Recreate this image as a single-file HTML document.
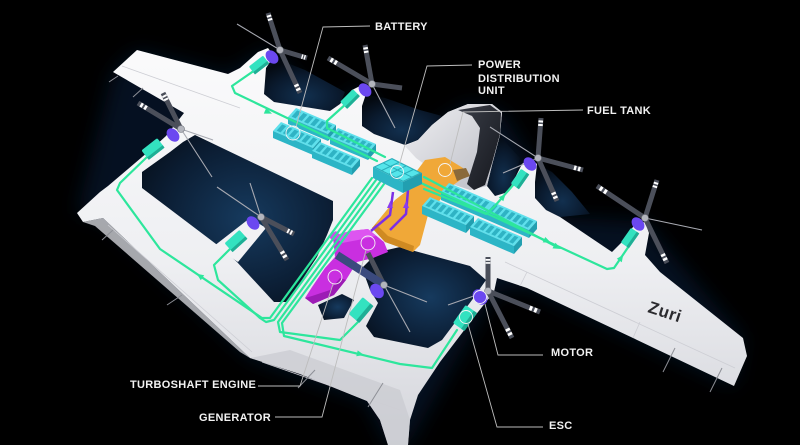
<!DOCTYPE html>
<html><head><meta charset="utf-8">
<style>
html,body{margin:0;padding:0;background:#000;width:800px;height:445px;overflow:hidden}
svg{display:block}
.lb{font-family:"Liberation Sans",Arial,sans-serif;font-weight:bold;font-size:11px;fill:#f2f2f2;letter-spacing:.3px}
.w{stroke:#4b4f5a;stroke-width:5;stroke-linecap:butt}
.t{stroke:#a7a9b1;stroke-width:1.1}
.s{stroke:#fff;stroke-width:4.6;stroke-dasharray:0 80 5 4 5 300}
.g{fill:none;stroke:#2de69c;stroke-width:2.2;stroke-linejoin:round;stroke-linecap:round}
.p{fill:none;stroke:#7c2ee6;stroke-width:2.5;stroke-linejoin:round}
.ld{fill:none;stroke:#bdbdbd;stroke-width:0.9}
.cr{fill:none;stroke:#f4f4f4;stroke-width:0.9}
.tk{stroke:#8d8f96;stroke-width:1}
</style></head>
<body>
<svg width="800" height="445" viewBox="0 0 800 445" xmlns="http://www.w3.org/2000/svg">
<defs>
<filter id="blur" x="-50%" y="-50%" width="200%" height="200%"><feGaussianBlur stdDeviation="10"/></filter>
<radialGradient id="hn" cx=".55" cy=".5" r=".65"><stop offset="0" stop-color="#163a5e"/><stop offset=".7" stop-color="#0b1d33"/><stop offset="1" stop-color="#07111e"/></radialGradient>
<radialGradient id="hn2" cx=".5" cy=".7" r=".7"><stop offset="0" stop-color="#12304f"/><stop offset=".6" stop-color="#0a1a2e"/><stop offset="1" stop-color="#040a12"/></radialGradient>
<linearGradient id="wh" x1="0" y1="40" x2="0" y2="445" gradientUnits="userSpaceOnUse"><stop offset="0" stop-color="#fbfbfc"/><stop offset=".55" stop-color="#eeeff2"/><stop offset="1" stop-color="#d4d5db"/></linearGradient>
<linearGradient id="cn" x1="0" y1="0" x2="1" y2="1"><stop offset="0" stop-color="#efeff2"/><stop offset="1" stop-color="#b9bbc3"/></linearGradient>
<linearGradient id="gl" x1="0" y1="0" x2="1" y2="1"><stop offset="0" stop-color="#3a3e48"/><stop offset="1" stop-color="#15171d"/></linearGradient>
<g id="bt6"><rect width="1" height="1" fill="#5fe0ec"/><g fill="#2fb3c4"><rect x=".06" y=".15" width=".1" height=".7"/><rect x=".215" y=".15" width=".1" height=".7"/><rect x=".37" y=".15" width=".1" height=".7"/><rect x=".525" y=".15" width=".1" height=".7"/><rect x=".68" y=".15" width=".1" height=".7"/><rect x=".835" y=".15" width=".1" height=".7"/></g></g>
<g id="bt7"><rect width="1" height="1" fill="#5fe0ec"/><g fill="#2fb3c4"><rect x=".05" y=".15" width=".085" height=".7"/><rect x=".185" y=".15" width=".085" height=".7"/><rect x=".32" y=".15" width=".085" height=".7"/><rect x=".455" y=".15" width=".085" height=".7"/><rect x=".59" y=".15" width=".085" height=".7"/><rect x=".725" y=".15" width=".085" height=".7"/><rect x=".86" y=".15" width=".085" height=".7"/></g></g>
<rect id="bf" width="1" height="1" fill="#2cb5c6"/>
<rect id="be" width="1" height="1" fill="#229fb0"/>
</defs>

<rect width="800" height="445" fill="#000"/>

<!-- glow -->
<path filter="url(#blur)" fill="#0e2c52" opacity=".4" d="M113,72 L137,50 L228,74 L268,48 L330,111 L360,86 L405,145 L468,104 L502,112 L530,158 L560,217 L645,222 L743,338 L734,386 L527,288 L494,292 L408,445 L388,445 L367,401 L250,358 L103,218 L77,213 Z"/>

<!-- open navy regions -->
<g fill="url(#hn2)">
<polygon points="266,68 282,61 305,70 345,92 340,104 330,111 274,102 264,94"/>
<polygon points="366,95 385,98 420,110 442,116 432,125 418,140 405,145 374,134 362,126 362,106"/>
<polygon points="487,186 492,165 500,135 508,145 520,158 514,180 508,192 495,196"/>
<polygon points="537,164 552,172 572,192 590,214 560,217 546,210 535,198 535,182"/>
</g>

<!-- aircraft silhouette -->
<path fill="url(#wh)" d="M113,72 L137,50 L228,74 L240,68 L258,52 L268,48 L274,56 L266,68 L264,94 L274,102 L330,111 L340,104 L352,90 L360,86 L366,94 L362,106 L362,126 L374,134 L405,145 L418,140 L432,125 L448,112 L468,104 L492,104 L502,112 L500,135 L492,165 L487,186 L495,196 L508,192 L514,180 L522,164 L530,158 L537,164 L535,182 L535,198 L546,210 L560,217 L612,252 L624,240 L635,224 L645,222 L649,233 L645,255 L660,272 L743,338 L747,356 L734,386 L633,338 L527,288 L497,278 L494,292 L478,312 L440,362 L418,395 L410,420 L408,445 L388,445 L380,420 L367,401 L300,374 L250,358 L103,218 L83,222 L77,213 L100,192 L108,186 L155,146 L166,136 L177,122 L184,113 Z"/>

<!-- lower surface shading -->
<polygon points="250,358 290,350 400,390 410,420 408,445 388,445 380,420 367,401 300,374" fill="#c9cad0" opacity=".7"/>
<polygon points="83,222 103,218 250,358 240,352 95,226" fill="#d0d1d6" opacity=".8"/>

<!-- enclosed holes -->
<polygon fill="url(#hn)" points="142,188 142,172 170,152 183,142 195,135 333,201 333,220 327,235 317,257 300,283 287,302 274,302 237,262 220,247"/>
<polygon fill="url(#hn)" points="362,268 378,252 400,247 470,266 486,280 472,300 442,340 428,348 374,337 366,326 378,303 370,290"/>
<polygon fill="url(#hn)" points="318,305 342,294 354,300 344,318 324,320"/>
<!-- pylon for motor 4 -->
<polygon points="214,246 250,218 266,228 238,262" fill="#f1f1f4"/>

<!-- panel lines -->
<g fill="none" stroke="#cdced4" stroke-width=".8">
<path d="M505,262 L735,368"/><path d="M527,272 L520,286"/><path d="M640,322 L633,338"/>
<path d="M122,66 L240,108"/><path d="M108,225 L252,352"/><path d="M262,362 L400,410"/>
</g>
<g class="tk">
<line x1="109" y1="82" x2="118" y2="76"/><line x1="133" y1="97" x2="143" y2="88"/>
<line x1="102" y1="240" x2="113" y2="230"/><line x1="167" y1="305" x2="182" y2="295"/>
<line x1="298" y1="388" x2="315" y2="370"/><line x1="368" y1="407" x2="383" y2="383"/>
<line x1="663" y1="372" x2="675" y2="348"/><line x1="710" y1="392" x2="722" y2="368"/>
</g>

<!-- canopy -->
<path fill="url(#cn)" d="M405,146 L418,140 L432,125 L448,112 L468,104 L492,104 L502,112 L500,135 L492,165 L487,186 L470,190 L452,184 L432,170 L416,158 Z"/>
<path fill="url(#gl)" d="M458,110 L490,105 L501,113 L500,134 L492,163 L485,185 L474,190 L467,184 L477,152 L480,128 L472,116 Z"/>

<!-- fuel tank -->
<path fill="#f0a838" d="M425,160 L445,157 L463,168 L463,178 L452,186 L440,200 L428,215 L420,245 L413,252 L385,242 L372,228 L395,200 L408,190 L416,172 Z"/>
<polygon points="372,228 385,242 413,252 414,246 388,236 376,224" fill="#cf8a22"/>
<polygon points="453,170 466,168 470,176 457,181" fill="#8a6a3a"/>

<!-- batteries left -->
<use href="#bt6" transform="matrix(40 17 -8 9 296 108)"/><use href="#bf" transform="matrix(40 17 0 7 288 117)"/><use href="#be" transform="matrix(-8 9 0 7 336 125)"/>
<use href="#bt6" transform="matrix(38 16 -8 9 338 128)"/><use href="#bf" transform="matrix(38 16 0 7 330 137)"/><use href="#be" transform="matrix(-8 9 0 7 376 144)"/>
<use href="#bt6" transform="matrix(40 17 -8 9 281 122)"/><use href="#bf" transform="matrix(40 17 0 7 273 131)"/><use href="#be" transform="matrix(-8 9 0 7 321 139)"/>
<use href="#bt6" transform="matrix(40 17 -8 9 320 142)"/><use href="#bf" transform="matrix(40 17 0 7 312 151)"/><use href="#be" transform="matrix(-8 9 0 7 360 159)"/>
<!-- batteries right -->
<use href="#bt7" transform="matrix(44 19 -8 9 449 183)"/><use href="#bf" transform="matrix(44 19 0 8 441 192)"/><use href="#be" transform="matrix(-8 9 0 8 493 202)"/>
<use href="#bt7" transform="matrix(44 19 -8 9 493 202)"/><use href="#bf" transform="matrix(44 19 0 8 485 211)"/><use href="#be" transform="matrix(-8 9 0 8 537 221)"/>
<use href="#bt7" transform="matrix(44 19 -8 9 430 197)"/><use href="#bf" transform="matrix(44 19 0 8 422 206)"/><use href="#be" transform="matrix(-8 9 0 8 474 216)"/>
<use href="#bt7" transform="matrix(44 19 -8 9 478 218)"/><use href="#bf" transform="matrix(44 19 0 8 470 227)"/><use href="#be" transform="matrix(-8 9 0 8 522 237)"/>

<!-- engine / generator -->
<path fill="#c92fe0" d="M333,236 L350,231 L368,229 L384,242 L388,252 L373,258 L357,262 L346,280 L334,295 L313,304 L305,298 L312,287 L325,268 L335,257 L334,247 Z"/>
<polygon points="333,236 350,231 368,229 376,236 358,240 342,243" fill="#dd55f0"/>
<polygon points="305,298 313,304 334,295 346,280 340,278 330,290 312,296" fill="#9c1cb5"/>
<polygon points="328,236 336,231 341,236 333,241" fill="#d44ae8"/>

<!-- green power lines -->
<path class="g" d="M255,70 L232,86 L235,93 L377,161"/>
<path class="g" d="M347,103 L327,121 L327,128 L385,157"/>
<path class="g" d="M424,177 L557,247"/>
<path class="g" d="M421,183 L607,269 L614,268 L631,243"/>
<path class="g" d="M424,189 L486,214 L494,207 L514,184"/>
<path class="g" d="M372,178 L270,318 L262,318 L160,249 L117,190 L120,183 L147,157"/>
<path class="g" d="M376,180 L274,320 L266,322 L260,318 L218,280 L214,265 L232,247"/>
<path class="g" d="M380,182 L278,322 L280,332 L340,340 L360,320"/>
<path class="g" d="M384,184 L282,323 L284,336 L400,364 L432,368 L457,330"/>
<g fill="#2de69c">
<polygon points="272,113.6 263.8,113.6 266.2,108"/>
<polygon points="561,249 552.5,248.4 555.5,242.8"/>
<polygon points="551,242.7 542.7,242.4 545.3,237"/>
<polygon points="196.7,273.8 204.2,275.2 200.8,280.2"/>
<polygon points="505.6,194 503.3,201.3 498.7,197.3"/>
<polygon points="623.2,254.7 621.8,262.2 616.8,258.8"/>
<polygon points="364,355 356.3,356.2 357.7,350.4"/>
</g>
<!-- purple lines -->
<path class="p" d="M393,192 L390,215 L371,231"/>
<path class="p" d="M408,190 L406,214 L390,230"/>
<g fill="#8a3cf0"><polygon points="390.3,201 387,208 393,208"/><polygon points="406.2,201 403,208 409,208"/></g>

<!-- PDU -->
<use href="#bf" transform="matrix(30 15 0 11 373 167)"/>
<use href="#be" transform="matrix(-19 9 0 11 422 173)"/>
<g transform="matrix(30 15 -19 9 392 158)"><rect width="1" height="1" fill="#2aaebb"/><g fill="#55e5ea"><rect x=".04" y=".07" width=".2" height=".4"/><rect x=".28" y=".07" width=".2" height=".4"/><rect x=".52" y=".07" width=".2" height=".4"/><rect x=".76" y=".07" width=".2" height=".4"/><rect x=".04" y=".53" width=".2" height=".4"/><rect x=".28" y=".53" width=".2" height=".4"/><rect x=".52" y=".53" width=".2" height=".4"/><rect x=".76" y=".53" width=".2" height=".4"/></g></g>

<!-- ESCs -->
<g fill="#33e2c0">
<g transform="translate(259,65) rotate(-38)"><rect x="-9" y="-5" width="18" height="10" rx="1.5"/><rect x="-9" y="2" width="18" height="3" fill="#1fae95"/></g>
<g transform="translate(350,99) rotate(-45)"><rect x="-9" y="-5" width="18" height="10" rx="1.5"/><rect x="-9" y="2" width="18" height="3" fill="#1fae95"/></g>
<g transform="translate(153,149) rotate(-38)"><rect x="-10" y="-6" width="20" height="12" rx="1.5"/><rect x="-10" y="3" width="20" height="3" fill="#1fae95"/></g>
<g transform="translate(236,241) rotate(-42)"><rect x="-10" y="-6" width="20" height="12" rx="1.5"/><rect x="-10" y="3" width="20" height="3" fill="#1fae95"/></g>
<g transform="translate(520,179) rotate(-55)"><rect x="-9" y="-5" width="18" height="10" rx="1.5"/><rect x="-9" y="2" width="18" height="3" fill="#1fae95"/></g>
<g transform="translate(630,238) rotate(-55)"><rect x="-9" y="-5" width="18" height="10" rx="1.5"/><rect x="-9" y="2" width="18" height="3" fill="#1fae95"/></g>
<g transform="translate(361,310) rotate(-50)"><rect x="-11" y="-7" width="22" height="14" rx="1.5"/><rect x="-11" y="3" width="22" height="4" fill="#1fae95"/></g>
<g transform="translate(465,318) rotate(-55)"><rect x="-11" y="-7" width="22" height="14" rx="1.5"/><rect x="-11" y="3" width="22" height="4" fill="#1fae95"/></g>
</g>

<!-- propeller blades -->
<g>
<line class="w" x1="280" y1="50" x2="268" y2="13"/><line class="s" pathLength="100" x1="280" y1="50" x2="268" y2="13"/>
<line class="w" x1="280" y1="50" x2="307" y2="58"/><line class="s" pathLength="100" x1="280" y1="50" x2="307" y2="58"/>
<line class="w" x1="280" y1="50" x2="300" y2="93"/><line class="s" pathLength="100" x1="280" y1="50" x2="300" y2="93"/>
<line class="t" x1="280" y1="50" x2="237" y2="24"/>

<line class="w" x1="372" y1="84" x2="365" y2="45"/><line class="s" pathLength="100" x1="372" y1="84" x2="365" y2="45"/>
<line class="w" x1="372" y1="84" x2="328" y2="58"/><line class="s" pathLength="100" x1="372" y1="84" x2="328" y2="58"/>
<line class="w" x1="372" y1="84" x2="402" y2="88"/>
<line class="t" x1="372" y1="84" x2="395" y2="128"/>

<line class="w" x1="181" y1="129" x2="163" y2="93"/><line class="s" pathLength="100" x1="181" y1="129" x2="163" y2="93"/>
<line class="w" x1="181" y1="129" x2="138" y2="103"/><line class="s" pathLength="100" x1="181" y1="129" x2="138" y2="103"/>
<line class="t" x1="181" y1="129" x2="213" y2="140"/>
<line class="t" x1="181" y1="129" x2="212" y2="177"/>

<line class="t" x1="261" y1="217" x2="250" y2="183"/>
<line class="t" x1="261" y1="217" x2="217" y2="187"/>
<line class="w" x1="261" y1="217" x2="294" y2="234"/><line class="s" pathLength="100" x1="261" y1="217" x2="294" y2="234"/>
<line class="w" x1="261" y1="217" x2="287" y2="260"/><line class="s" pathLength="100" x1="261" y1="217" x2="287" y2="260"/>

<line class="w" x1="538" y1="158" x2="541" y2="118"/><line class="s" pathLength="100" x1="538" y1="158" x2="541" y2="118"/>
<line class="w" x1="538" y1="158" x2="583" y2="170"/><line class="s" pathLength="100" x1="538" y1="158" x2="583" y2="170"/>
<line class="w" x1="538" y1="158" x2="557" y2="201"/><line class="s" pathLength="100" x1="538" y1="158" x2="557" y2="201"/>
<line class="t" x1="538" y1="158" x2="490" y2="127"/>
<line class="t" x1="538" y1="158" x2="503" y2="173"/>

<line class="w" x1="645" y1="218" x2="657" y2="180"/><line class="s" pathLength="100" x1="645" y1="218" x2="657" y2="180"/>
<line class="w" x1="645" y1="218" x2="597" y2="186"/><line class="s" pathLength="100" x1="645" y1="218" x2="597" y2="186"/>
<line class="w" x1="645" y1="218" x2="667" y2="263"/><line class="s" pathLength="100" x1="645" y1="218" x2="667" y2="263"/>
<line class="t" x1="645" y1="218" x2="702" y2="230"/>

<line class="w" x1="384" y1="285" x2="368" y2="253"/>
<line class="w" style="stroke:#3b4a7e;stroke-width:8" x1="384" y1="285" x2="337" y2="255"/>
<line class="t" x1="384" y1="285" x2="427" y2="302"/>
<line class="t" x1="384" y1="285" x2="410" y2="332"/>

<line class="w" x1="488" y1="291" x2="488" y2="257"/><line class="s" pathLength="100" x1="488" y1="291" x2="488" y2="257"/>
<line class="w" x1="488" y1="291" x2="540" y2="312"/><line class="s" pathLength="100" x1="488" y1="291" x2="540" y2="312"/>
<line class="w" x1="488" y1="291" x2="512" y2="338"/><line class="s" pathLength="100" x1="488" y1="291" x2="512" y2="338"/>
<line class="t" x1="488" y1="291" x2="448" y2="305"/>
</g>

<!-- motors -->
<g fill="#6b48f0">
<ellipse cx="272" cy="57" rx="5.5" ry="7.5" transform="rotate(-40 272 57)"/>
<ellipse cx="365" cy="90" rx="5.5" ry="7.5" transform="rotate(-40 365 90)"/>
<ellipse cx="173" cy="135" rx="5.5" ry="7.5" transform="rotate(-40 173 135)"/>
<ellipse cx="253" cy="223" rx="5.5" ry="7.5" transform="rotate(-40 253 223)"/>
<ellipse cx="530" cy="164" rx="5.5" ry="7.5" transform="rotate(-40 530 164)"/>
<ellipse cx="638" cy="224" rx="5.5" ry="7.5" transform="rotate(-40 638 224)"/>
<ellipse cx="377" cy="291" rx="6" ry="8" transform="rotate(-40 377 291)"/>
<ellipse cx="480" cy="297" rx="6.5" ry="8.5" transform="rotate(-40 480 297)"/>
</g>
<g fill="#b3b5bd" stroke="#70737c" stroke-width=".6">
<circle cx="280" cy="50" r="3.5"/><circle cx="372" cy="84" r="3.5"/><circle cx="181" cy="129" r="3.5"/><circle cx="261" cy="217" r="3.5"/>
<circle cx="538" cy="158" r="3.5"/><circle cx="645" cy="218" r="3.5"/><circle cx="384" cy="285" r="3.5"/><circle cx="488" cy="291" r="3.5"/>
</g>

<!-- leader lines & circles -->
<path class="ld" d="M370,26 L323,27 L296,127"/><circle class="cr" cx="293" cy="133" r="7"/>
<path class="ld" d="M472,65 L427,66 L399,166"/><circle class="cr" cx="397" cy="172" r="6.5"/>
<path class="ld" d="M583,110 L463,112 L450,164"/><circle class="cr" cx="445" cy="170" r="6.5"/>
<path class="ld" d="M543,355 L498,355 L485,304"/><circle class="cr" cx="480" cy="297" r="6.5"/>
<path class="ld" d="M543,427 L497,427 L468,324"/><circle class="cr" cx="466" cy="317" r="6.5"/>
<path class="ld" d="M258,386 L300,386 L333,284"/><circle class="cr" cx="335" cy="277" r="7"/>
<path class="ld" d="M275,417 L322,417 L366,250"/><circle class="cr" cx="368" cy="243" r="7"/>

<!-- labels -->
<text class="lb" x="375" y="30">BATTERY</text>
<text class="lb" x="478" y="68">POWER</text>
<text class="lb" x="478" y="82">DISTRIBUTION</text>
<text class="lb" x="478" y="94">UNIT</text>
<text class="lb" x="587" y="114">FUEL TANK</text>
<text class="lb" x="551" y="356">MOTOR</text>
<text class="lb" x="549" y="429">ESC</text>
<text class="lb" x="130" y="388">TURBOSHAFT ENGINE</text>
<text class="lb" x="199" y="421">GENERATOR</text>

<text x="647" y="312" transform="rotate(18 647 312)" font-family="Liberation Sans, Arial, sans-serif" font-weight="bold" font-size="17" fill="#2a2a2e" letter-spacing=".5">Zuri</text>
</svg>
</body></html>
